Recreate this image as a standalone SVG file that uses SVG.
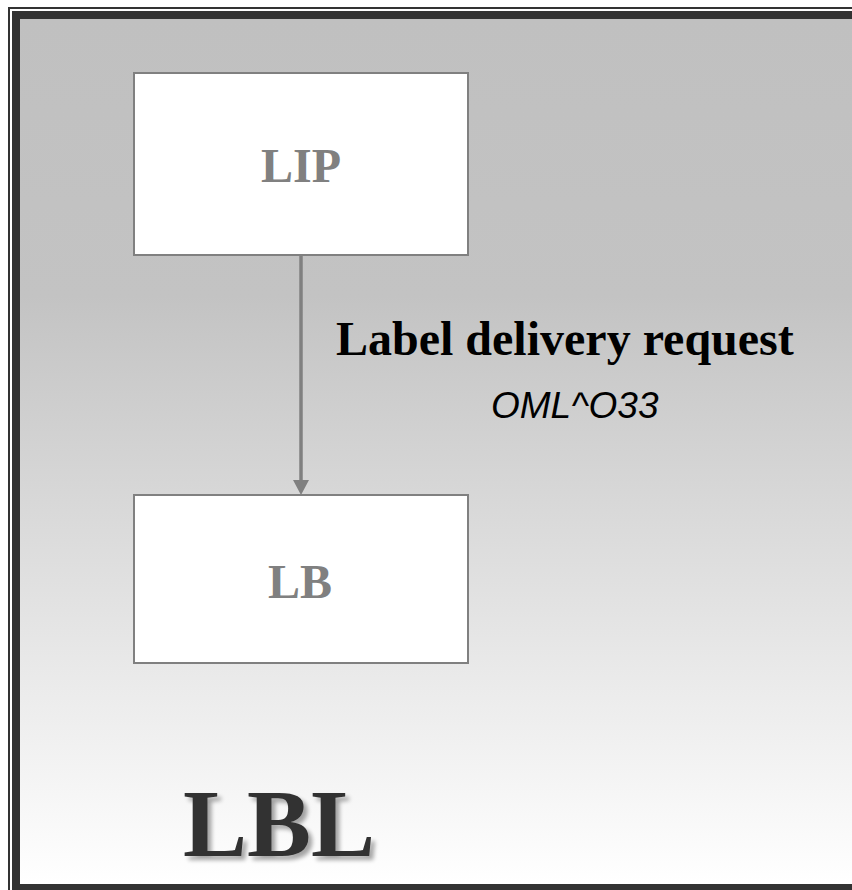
<svg xmlns="http://www.w3.org/2000/svg" width="852" height="890" viewBox="0 0 852 890">
  <defs>
    <linearGradient id="bg" x1="0" y1="0" x2="0" y2="1">
      <stop offset="0" stop-color="#c0c0c0"/>
      <stop offset="0.32" stop-color="#c3c3c3"/>
      <stop offset="1" stop-color="#ffffff"/>
    </linearGradient>
    <filter id="shadow" x="-10%" y="-10%" width="130%" height="140%">
      <feGaussianBlur in="SourceAlpha" stdDeviation="2"/>
      <feOffset dx="4" dy="4" result="b"/>
      <feComponentTransfer><feFuncA type="linear" slope="0.35"/></feComponentTransfer>
      <feMerge><feMergeNode/><feMergeNode in="SourceGraphic"/></feMerge>
    </filter>
    <marker id="arrow" markerWidth="16" markerHeight="15" refX="8" refY="15" orient="auto" markerUnits="userSpaceOnUse" viewBox="0 0 16 15">
      <path d="M0,0 L16,0 L8,15 Z" fill="#808080" transform="rotate(-90 8 7.5) translate(0,0)"/>
    </marker>
    <style>
      .node rect { fill: #ffffff; stroke: #808080; stroke-width: 2; }
      .node text { font-family: "Liberation Serif", "Times New Roman", serif; font-weight: bold; font-size: 48px; fill: #808080; text-anchor: middle; }
      .conn { stroke: #808080; stroke-width: 3.5; fill: none; }
    </style>
  </defs>

  <g id="frame">
    <rect x="8" y="7" width="900" height="900" fill="#333333"/>
    <rect x="11" y="10" width="900" height="900" fill="none" stroke="#ffffff" stroke-width="2"/>
    <rect x="20" y="19" width="900" height="865" fill="url(#bg)"/>
  </g>

  <g id="connectors">
    <line class="conn" x1="301" y1="256" x2="301" y2="481"/>
    <path d="M293,480 L309,480 L301,495 Z" fill="#808080"/>
    <text x="336" y="355" font-family="Liberation Serif, Times New Roman, serif" font-weight="bold" font-size="48" fill="#000000">Label delivery request</text>
    <text x="491" y="418" font-family="Liberation Sans, Arial, sans-serif" font-style="italic" font-size="37" fill="#000000">OML^O33</text>
  </g>

  <g id="LIP" class="node">
    <rect x="134" y="73" width="334" height="182"/>
    <text x="301" y="182">LIP</text>
  </g>

  <g id="LB" class="node">
    <rect x="134" y="495" width="334" height="168"/>
    <text x="300" y="598">LB</text>
  </g>

  <g id="title">
    <text x="183" y="856" font-family="Liberation Serif, Times New Roman, serif" font-weight="bold" font-size="96" fill="#333333" filter="url(#shadow)">LBL</text>
  </g>
</svg>
